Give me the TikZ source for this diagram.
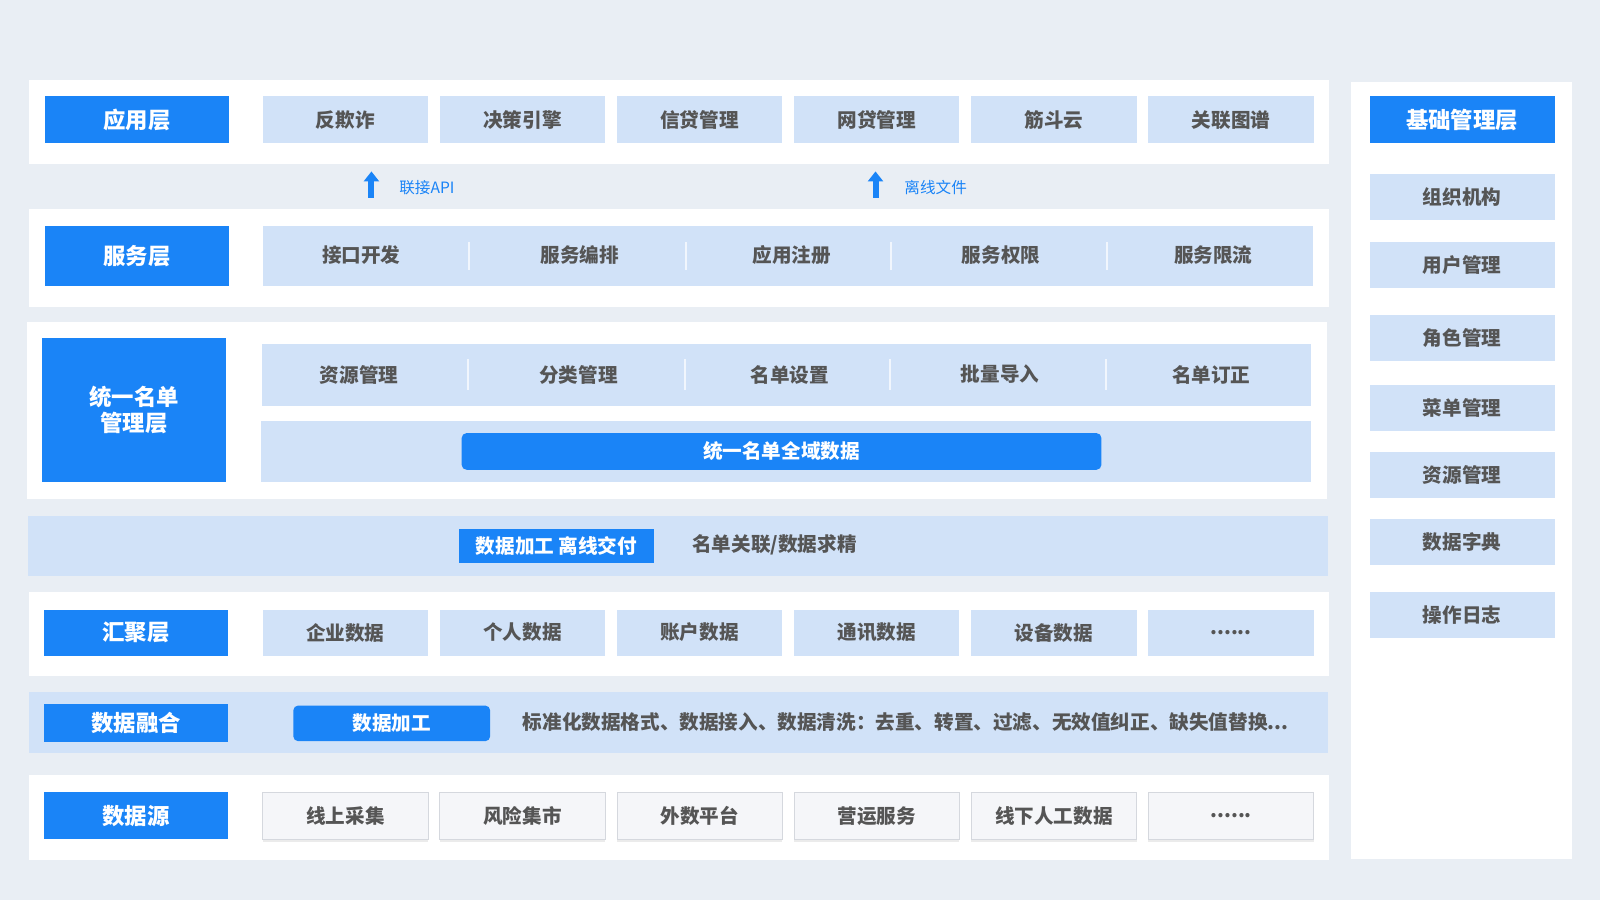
\documentclass[tikz,border=0pt]{standalone}
\usepackage{fontspec}
\setmainfont{Noto Sans CJK SC}
\usetikzlibrary{arrows.meta,shadows}
\definecolor{bg}{HTML}{E9EEF4}
\definecolor{mblue}{HTML}{1A84F7}
\definecolor{lblue}{HTML}{D1E2F8}
\definecolor{tgray}{HTML}{555555}
\definecolor{srcfill}{HTML}{F5F6F9}
\definecolor{srcline}{HTML}{D5D8DE}
\newcommand\bx[7]{\node[#6, anchor=north west, inner sep=0pt, minimum width={(#4-#2)*0.5102pt}, minimum height={(#5-#3)*0.5102pt}] (#1) at (#2,#3) {#7};}
\newcommand\sixdots{......}
\tikzset{
  panel/.style={fill=white, draw=none},
  bar/.style={fill=lblue, draw=none},
  lbl/.style={fill=mblue, text=white, font=\bfseries\fontsize{11.2}{14}\selectfont},
  item/.style={fill=lblue, text=tgray, font=\bfseries\fontsize{9.8}{12}\selectfont},
  itxt/.style={text=tgray, font=\bfseries\fontsize{9.8}{12}\selectfont, inner sep=0pt},
  srcitem/.style={fill=srcfill, draw=srcline, line width=0.5pt, text=tgray, font=\bfseries\fontsize{9.8}{12}\selectfont,
    drop shadow={shadow xshift=0pt, shadow yshift=-1.5pt, opacity=0.08, fill=black}},
  bluebtn/.style={fill=mblue, text=white, font=\bfseries\fontsize{9.8}{12}\selectfont},
  roundbtn/.style={bluebtn, rounded corners=2.5pt},
  sepline/.style={draw=white!70!lblue, line width=1pt},
  uparrow/.style={draw=mblue, line width=3pt, -{Triangle[width=7.5pt,length=5pt]}},
  arrlbl/.style={text=mblue, font=\fontsize{7.8}{9}\selectfont, anchor=west, inner sep=0pt},
}
\begin{document}
\begin{tikzpicture}[x=0.5102pt,y=-0.5102pt]
\fill[bg] (0,0) rectangle (1568,882);
\useasboundingbox (0,0) rectangle (1568,882);
% panels
\bx{pApp}{28}{78}{1302}{160}{panel}{}
\bx{pSvc}{28}{204}{1302}{300}{panel}{}
\bx{pUni}{26}{315}{1300}{489}{panel}{}
\bx{pProc}{27}{505}{1301}{564}{bar}{}
\bx{pAgg}{28}{580}{1302}{662}{panel}{}
\bx{pFus}{28}{678}{1301}{738}{bar}{}
\bx{pSrc}{28}{759}{1302}{842}{panel}{}
\bx{pBase}{1324}{80}{1540}{841}{panel}{}
% labels
\bx{lApp}{44}{94}{224}{140}{lbl}{应用层}
\bx{lSvc}{44}{221}{224}{280}{lbl}{服务层}
\bx{lUni}{41}{331}{221}{472}{lbl,align=center}{统一名单\\[-1pt]管理层}
\bx{lAgg}{43}{597}{223}{642}{lbl}{汇聚层}
\bx{lFus}{43}{690}{223}{727}{lbl}{数据融合}
\bx{lSrc}{43}{776}{223}{822}{lbl}{数据源}
\bx{lBase}{1342}{94}{1523}{140}{lbl}{基础管理层}
% application items
\foreach \t [count=\i from 0] in {反欺诈,决策引擎,信贷管理,网贷管理,筋斗云,关联图谱}{
  \pgfmathsetmacro\xa{257+173.6*\i}
  \bx{app\i}{\xa}{94}{\xa+162}{140}{item}{\t}
}
% arrows
\coordinate (a1s) at (364,194);
\coordinate (a1e) at (364,168);
\draw[uparrow] (a1s) -- (a1e);
\node[arrlbl] (a1l) at (391,184) {联接API};
\coordinate (a2s) at (858,194);
\coordinate (a2e) at (858,168);
\draw[uparrow] (a2s) -- (a2e);
\node[arrlbl] (a2l) at (886,184) {离线文件};
% service bar
\bx{svcBar}{257}{221}{1286}{280}{item}{}
\foreach \t/\x [count=\i] in {接口开发/354,服务编排/568,应用注册/776,服务权限/981,服务限流/1189}{
  \node[itxt] (svc\i) at (\x,250) {\t};
}
\foreach \x in {460,672,873,1085}{\draw[sepline] (\x,237) -- (\x,265);}
% unified list bars
\bx{uniBar}{256}{337}{1284}{397}{item}{}
\foreach \t/\x [count=\i] in {资源管理/352,分类管理/567,名单设置/774,批量导入/980,名单订正/1187}{
  \node[itxt] (uni\i) at (\x,367) {\t};
}
\foreach \x in {459,671,872,1084}{\draw[sepline] (\x,352) -- (\x,382);}
\bx{uniBar2}{255}{412}{1284}{472}{item}{}
\bx{uniAll}{452}{424}{1079}{460}{roundbtn}{统一名单全域数据}
% processing row
\bx{proc}{449}{518}{641}{551}{bluebtn}{数据加工 离线交付}
\node[itxt] (procTxt) at (759,534) {名单关联/数据求精};
% aggregation items
\foreach \t [count=\i from 0] in {企业数据,个人数据,账户数据,通讯数据,设备数据,\sixdots}{
  \pgfmathsetmacro\xa{257+173.6*\i}
  \bx{agg\i}{\xa}{597}{\xa+162}{642}{item}{\t}
}
% fusion row
\bx{fus}{287}{691}{480}{726}{roundbtn}{数据加工}
\node[itxt, anchor=west] (fusTxt) at (512,708) {标准化数据格式、数据接入、数据清洗：去重、转置、过滤、无效值纠正、缺失值替换...};
% data sources
\foreach \t [count=\i from 0] in {线上采集,风险集市,外数平台,营运服务,线下人工数据,\sixdots}{
  \pgfmathsetmacro\xa{257+173.6*\i}
  \bx{src\i}{\xa}{776}{\xa+162}{822}{srcitem}{\t}
}
% base management items
\foreach \t/\y [count=\i] in {组织机构/170,用户管理/237,角色管理/308,菜单管理/377,资源管理/443,数据字典/508,操作日志/580}{
  \bx{base\i}{1342}{\y}{1523}{\y+45}{item}{\t}
}
\end{tikzpicture}
\end{document}
